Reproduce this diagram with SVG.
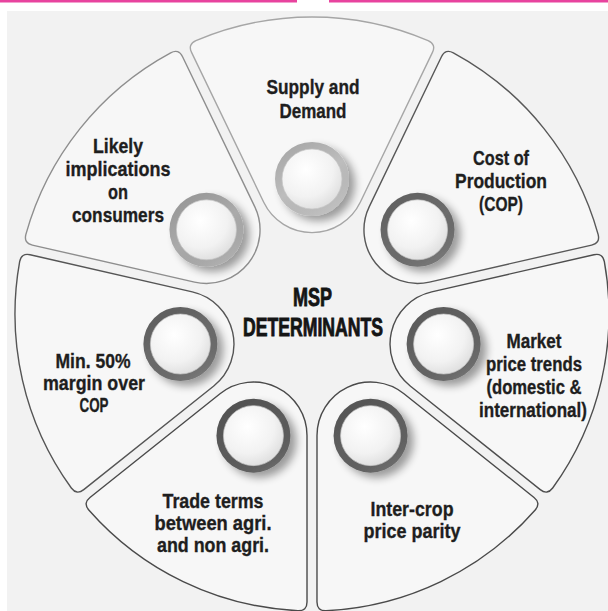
<svg xmlns="http://www.w3.org/2000/svg" width="608" height="611" viewBox="0 0 608 611">
<defs>
<style>
.wedge{fill:#f7f7f7;stroke-width:1.4;stroke-linejoin:round}
.lbl{font-family:"Liberation Sans",Arial,sans-serif;font-weight:bold;font-size:21px;fill:#1e1e1e;stroke:#1e1e1e;stroke-width:0.35;text-anchor:middle}
.sm{font-size:19.5px}
.title{font-family:"Liberation Sans",Arial,sans-serif;font-weight:bold;font-size:26px;fill:#151515;stroke:#151515;stroke-width:0.9;text-anchor:middle}
</style>
<path id="wedge" d="M263.73,202.24 L191.55,52.39 Q187.65,44.28 195.91,40.63 A297,297 0 0 1 428.09,40.63 Q436.35,44.28 432.45,52.39 L360.27,202.24 A53.57,53.57 0 0 1 263.73,202.24 Z"/>
<radialGradient id="disc" cx="0.4" cy="0.35" r="0.75">
<stop offset="0" stop-color="#ffffff"/>
<stop offset="0.6" stop-color="#f2f2f2"/>
<stop offset="1" stop-color="#d9d9d9"/>
</radialGradient>
<linearGradient id="ringshade" x1="0.2" y1="0" x2="0.8" y2="1">
<stop offset="0" stop-color="#000" stop-opacity="0.12"/>
<stop offset="0.5" stop-color="#000" stop-opacity="0"/>
<stop offset="1" stop-color="#fff" stop-opacity="0.12"/>
</linearGradient>
<filter id="shadow" x="-50%" y="-50%" width="200%" height="200%">
<feGaussianBlur in="SourceAlpha" stdDeviation="4"/>
<feOffset dx="6" dy="5"/>
<feComponentTransfer><feFuncA type="linear" slope="0.38"/></feComponentTransfer>
<feMerge><feMergeNode/><feMergeNode in="SourceGraphic"/></feMerge>
</filter>
<g id="btn">
<circle r="37"/>
<circle r="37" fill="url(#ringshade)"/>
<circle r="30" fill="url(#disc)" stroke="#c4c4c4" stroke-width="0.7"/>
</g>
</defs>

<rect x="0" y="0" width="608" height="611" fill="#ffffff"/>
<rect x="7" y="11" width="601" height="600" fill="#f2f2f2"/>
<rect x="0" y="0" width="297" height="2.5" fill="#e8439e"/>
<rect x="329" y="0" width="279" height="2.5" fill="#e8439e"/>

<g id="connectors"></g>

<g id="supply-demand">
<use href="#wedge" class="wedge" stroke="#a6a6a6"/>
<use href="#btn" x="312" y="179" fill="#bdbdbd" filter="url(#shadow)"/>
<text class="lbl" x="313" y="94" textLength="93" lengthAdjust="spacingAndGlyphs">Supply and</text>
<text class="lbl" x="313" y="118" textLength="67" lengthAdjust="spacingAndGlyphs">Demand</text>
</g>

<g id="cost-of-production">
<use href="#wedge" class="wedge" stroke="#585858" transform="rotate(51.4286 312 314)"/>
<use href="#btn" x="417.55" y="229.83" fill="#6c6c6c" filter="url(#shadow)"/>
<text class="lbl" x="501" y="165" textLength="56" lengthAdjust="spacingAndGlyphs">Cost of</text>
<text class="lbl" x="501" y="188" textLength="92" lengthAdjust="spacingAndGlyphs">Production</text>
<text class="lbl" x="501" y="211" textLength="44" lengthAdjust="spacingAndGlyphs">(COP)</text>
</g>

<g id="market-price-trends">
<use href="#wedge" class="wedge" stroke="#4e4e4e" transform="rotate(102.8571 312 314)"/>
<use href="#btn" x="443.62" y="344.04" fill="#646464" filter="url(#shadow)"/>
<text class="lbl sm" x="534" y="348" textLength="55" lengthAdjust="spacingAndGlyphs">Market</text>
<text class="lbl sm" x="534" y="371" textLength="96" lengthAdjust="spacingAndGlyphs">price trends</text>
<text class="lbl sm" x="534" y="394" textLength="95" lengthAdjust="spacingAndGlyphs">(domestic &amp;</text>
<text class="lbl sm" x="533" y="417" textLength="108" lengthAdjust="spacingAndGlyphs">international)</text>
</g>

<g id="inter-crop-price-parity">
<use href="#wedge" class="wedge" stroke="#4a4a4a" transform="rotate(154.2857 312 314)"/>
<use href="#btn" x="370.57" y="435.63" fill="#5f5f5f" filter="url(#shadow)"/>
<text class="lbl" x="412" y="516" textLength="83" lengthAdjust="spacingAndGlyphs">Inter-crop</text>
<text class="lbl" x="412" y="538" textLength="97" lengthAdjust="spacingAndGlyphs">price parity</text>
</g>

<g id="trade-terms">
<use href="#wedge" class="wedge" stroke="#4a4a4a" transform="rotate(205.7143 312 314)"/>
<use href="#btn" x="253.43" y="435.63" fill="#5b5b5b" filter="url(#shadow)"/>
<text class="lbl" x="213" y="508" textLength="101" lengthAdjust="spacingAndGlyphs">Trade terms</text>
<text class="lbl" x="213" y="530" textLength="117" lengthAdjust="spacingAndGlyphs">between agri.</text>
<text class="lbl" x="213" y="552" textLength="112" lengthAdjust="spacingAndGlyphs">and non agri.</text>
</g>

<g id="min-50-margin">
<use href="#wedge" class="wedge" stroke="#555555" transform="rotate(257.1429 312 314)"/>
<use href="#btn" x="180.38" y="344.04" fill="#6a6a6a" filter="url(#shadow)"/>
<text class="lbl" x="93" y="368" textLength="75" lengthAdjust="spacingAndGlyphs">Min. 50%</text>
<text class="lbl" x="94" y="390" textLength="102" lengthAdjust="spacingAndGlyphs">margin over</text>
<text class="lbl" x="94" y="412" textLength="29" lengthAdjust="spacingAndGlyphs">COP</text>
</g>

<g id="likely-implications">
<use href="#wedge" class="wedge" stroke="#8e8e8e" transform="rotate(308.5714 312 314)"/>
<use href="#btn" x="206.45" y="229.83" fill="#aaaaaa" filter="url(#shadow)"/>
<text class="lbl" x="118" y="153" textLength="50" lengthAdjust="spacingAndGlyphs">Likely</text>
<text class="lbl" x="118" y="176" textLength="105" lengthAdjust="spacingAndGlyphs">implications</text>
<text class="lbl" x="118" y="199" textLength="20" lengthAdjust="spacingAndGlyphs">on</text>
<text class="lbl" x="118" y="222" textLength="92" lengthAdjust="spacingAndGlyphs">consumers</text>
</g>

<g id="msp-determinants">
<text class="title" x="312.5" y="306" textLength="39" lengthAdjust="spacingAndGlyphs">MSP</text>
<text class="title" x="313" y="335.5" textLength="140" lengthAdjust="spacingAndGlyphs">DETERMINANTS</text>
</g>
</svg>
